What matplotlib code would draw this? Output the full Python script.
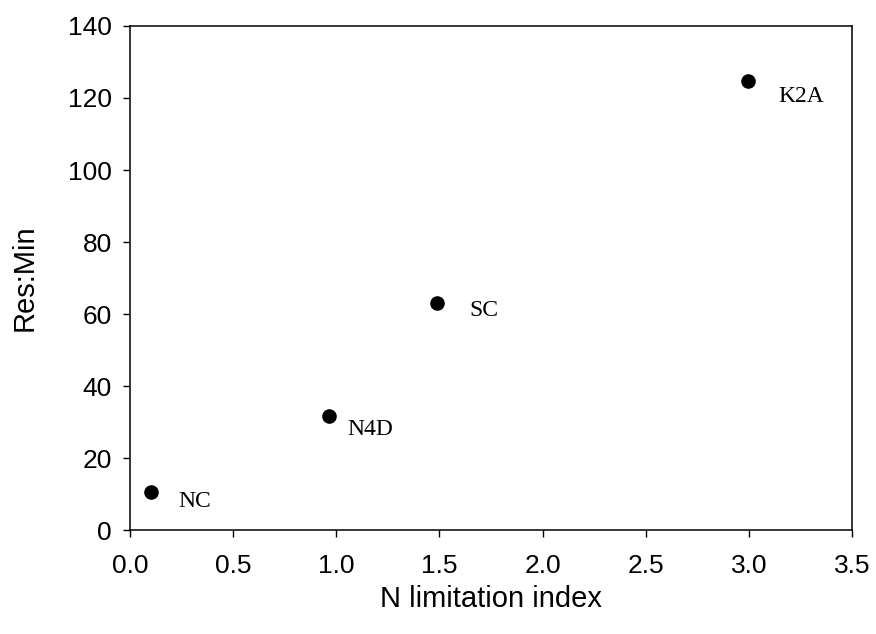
import matplotlib
matplotlib.use("Agg")
import matplotlib.pyplot as plt

# data
sites = ["NC", "N4D", "SC", "K2A"]
n_index = [0.10, 0.965, 1.49, 2.995]
res_min = [10.5, 31.7, 63.0, 124.7]
# label offsets (points) to the lower right of each dot
label_dx = [20, 13, 23, 22]
label_dy = [-7, -10, -5, -11]

plt.rcParams["font.family"] = ["Liberation Sans", "DejaVu Sans"]

fig = plt.figure(figsize=(8.76, 6.34), dpi=100)
ax = fig.add_axes([0.1484, 0.164, 0.8242, 0.795])

ax.scatter(n_index, res_min, s=90, color="black", zorder=3)
for name, x, y, dx, dy in zip(sites, n_index, res_min, label_dx, label_dy):
    ax.annotate(name, (x, y), xytext=(dx, dy), textcoords="offset points",
                ha="left", va="center", fontsize=17, family="Liberation Serif")

ax.set_xlim(0, 3.5)
ax.set_ylim(0, 140)
ax.set_xticks([0, 0.5, 1.0, 1.5, 2.0, 2.5, 3.0, 3.5])
ax.set_xticklabels(["0.0", "0.5", "1.0", "1.5", "2.0", "2.5", "3.0", "3.5"])
ax.set_yticks(range(0, 141, 20))
ax.tick_params(direction="out", length=5, width=1, labelsize=19, top=False, right=False)
ax.tick_params(axis="x", pad=12)
ax.tick_params(axis="y", pad=8)
for sp in ax.spines.values():
    sp.set_linewidth(1.1)

ax.set_xlabel("N limitation index", fontsize=21, labelpad=5)
ax.set_ylabel("Res:Min", fontsize=21, labelpad=21)

fig.savefig("out.png", dpi=100)
